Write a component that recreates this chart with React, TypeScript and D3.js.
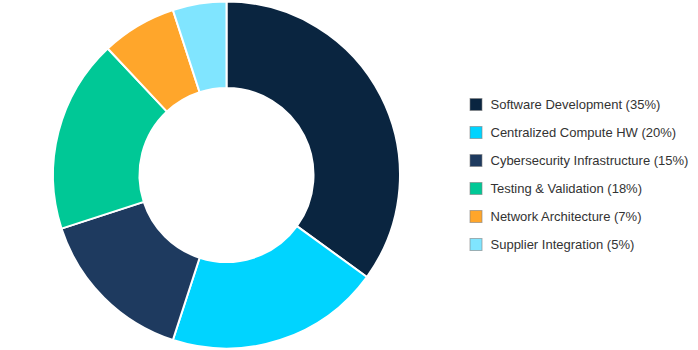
import React from "react";
import * as d3 from "d3";

const categories = [
  "Software Development",
  "Centralized Compute HW",
  "Cybersecurity Infrastructure",
  "Testing & Validation",
  "Network Architecture",
  "Supplier Integration",
];
const values = [35, 20, 15, 18, 7, 5];
const colors = ["#0a2540", "#00d4ff", "#1e3a5f", "#00c896", "#ffa62b", "#80e5ff"];

export default function App() {
  const W = 698, H = 350;
  const cx = 226.5, cy = 175, R = 173.5, r = 87;
  const pie = d3.pie<number>().sort(null).value((d) => d)(values);
  const arc = d3.arc<d3.PieArcDatum<number>>().innerRadius(r).outerRadius(R);
  const legendY = d3.scalePoint<number>().domain(d3.range(categories.length)).range([104.5, 244.5]);
  return (
    <svg width={W} height={H} style={{ position: "absolute", left: 0, top: 0 }}>
      <g transform={`translate(${cx},${cy})`}>
        {pie.map((p, i) => (
          <path key={i} d={arc(p) || ""} fill={colors[i]} stroke="#fff" strokeWidth={2} strokeLinejoin="miter" />
        ))}
      </g>
      {categories.map((c, i) => (
        <g key={c} transform={`translate(470,${legendY(i)})`}>
          <rect x={0} y={-6} width={12} height={12} fill={colors[i]} stroke="rgba(128,128,128,0.6)" strokeWidth={1} />
          <text x={20.5} y={0} dy="0.35em" fontFamily="Arial, 'Liberation Sans', sans-serif" fontSize={13} fill="#333">
            {`${c} (${values[i]}%)`}
          </text>
        </g>
      ))}
    </svg>
  );
}
